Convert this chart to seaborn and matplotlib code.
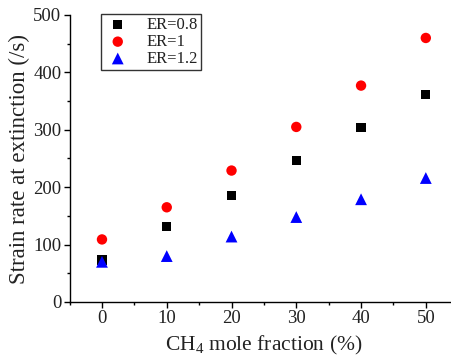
import matplotlib
matplotlib.use("Agg")
import matplotlib.pyplot as plt
from matplotlib.ticker import MultipleLocator
import seaborn as sns
import pandas as pd

# Data
ch4_fraction = [0, 10, 20, 30, 40, 50]
er_08 = [73, 132, 186, 246, 304, 362]
er_1 = [109, 165, 229, 305, 377, 460]
er_12 = [70, 80, 114, 148, 179, 216]
series_labels = ["ER=0.8", "ER=1", "ER=1.2"]

sns.set_theme(style="ticks")
FONT = "Liberation Serif"
plt.rcParams["font.family"] = [FONT, "DejaVu Serif"]
plt.rcParams["mathtext.fontset"] = "custom"
plt.rcParams["mathtext.rm"] = FONT
plt.rcParams["mathtext.default"] = "rm"

fig = plt.figure(figsize=(4.51, 3.56), dpi=100)
ax = fig.add_axes([69.6 / 451, 54 / 356, 388.6 / 451, 287 / 356])

df = pd.DataFrame({
    "x": ch4_fraction * 3,
    "y": er_08 + er_1 + er_12,
    "series": [series_labels[0]] * 6 + [series_labels[1]] * 6 + [series_labels[2]] * 6,
})

styles = [("s", "#000000", 44), ("o", "#ff0000", 56), ("^", "#0000ff", 72)]
for (marker, color, size), lab in zip(styles, series_labels):
    sub = df[df["series"] == lab]
    sns.scatterplot(data=sub, x="x", y="y", marker=marker, color=color, s=size,
                    edgecolor="none", linewidth=0, ax=ax, label=lab, zorder=3)

ax.set_xlim(-5, 55)
ax.set_ylim(0, 500)
ax.xaxis.set_major_locator(MultipleLocator(10))
ax.xaxis.set_minor_locator(MultipleLocator(5))
ax.yaxis.set_major_locator(MultipleLocator(100))
ax.yaxis.set_minor_locator(MultipleLocator(50))

for side in ["top", "right"]:
    ax.spines[side].set_visible(False)
for side in ["left", "bottom"]:
    ax.spines[side].set_color("black")
    ax.spines[side].set_linewidth(1.0)

ax.tick_params(which="major", direction="out", length=4.5, width=1.0, color="black",
               labelsize=13.5, labelcolor="#222222", pad=1.5)
ax.tick_params(which="minor", direction="out", length=2.5, width=1.0, color="black")

ax.set_xlabel("CH$_4$ mole fraction (%)", fontsize=15.5, color="#222222", labelpad=5)
ax.set_ylabel("Strain rate at extinction (/s)", fontsize=16.5, color="#222222", labelpad=2)

leg = ax.legend(loc="upper left", bbox_to_anchor=(0.081, 1.004), borderaxespad=0,
                frameon=True, fancybox=False, edgecolor="black", fontsize=12,
                handletextpad=0.9, borderpad=0.2, labelspacing=0.05, handlelength=1.6)
leg.get_frame().set_linewidth(1.0)
for t in leg.get_texts():
    t.set_color("#222222")

fig.savefig("out.png", dpi=100)
